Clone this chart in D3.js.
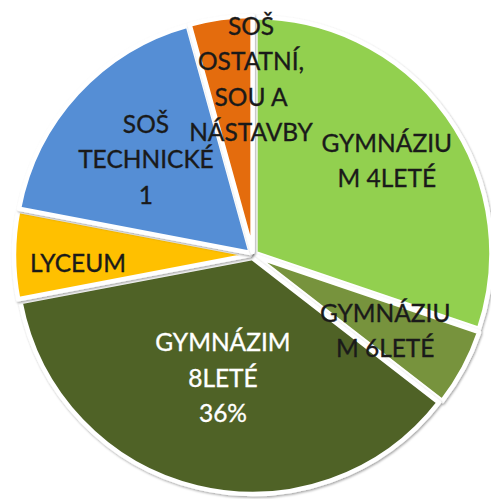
<!DOCTYPE html>
<html>
<head>
<meta charset="utf-8">
<script src="https://cdn.jsdelivr.net/npm/d3@7"></script>
<style>
html,body{margin:0;padding:0;background:#fff;}
svg{display:block;}
</style>
</head>
<body>
<svg id="chart" width="491" height="499"></svg>
<script>
// ---- data ----
const categories = ["GYMNÁZIUM 4LETÉ", "GYMNÁZIUM 6LETÉ", "GYMNÁZIM 8LETÉ", "LYCEUM", "SOŠ TECHNICKÉ 1", "SOŠ OSTATNÍ, SOU A NÁSTAVBY"];
const values = [30.2, 5.3, 36.5, 6.0, 17.7, 4.3];
const labelLines = [
  ["GYMNÁZIU", "M 4LETÉ"],
  ["GYMNÁZIU", "M 6LETÉ"],
  ["GYMNÁZIM", "8LETÉ", "36%"],
  ["LYCEUM"],
  ["SOŠ", "TECHNICKÉ", "1"],
  ["SOŠ", "OSTATNÍ,", "SOU A", "NÁSTAVBY"]
];

// ---- style / layout ----
const colors = ["#92d050", "#77933c", "#4f6228", "#ffc000", "#558ed5", "#e46c0a"];
const textColors = ["#1a1a1a", "#1a1a1a", "#ffffff", "#1a1a1a", "#1a1a1a", "#1a1a1a"];
const labelRadiusFrac = [0.695, 0.644, 0.534, 0.742, 0.61, 0.748];
const labelAngleShift = [0.3, 1.3, 0.3, -2.3, -0.7, 7.1];

const W = 491, H = 499;
const cx = 253, cy = 255, R = 236, explode = 3;
const lineH = 35.5;

const svg = d3.select("#chart");
const defs = svg.append("defs");
const f = defs.append("filter").attr("id", "sh").attr("x", "-10%").attr("y", "-10%").attr("width", "120%").attr("height", "120%");
f.append("feDropShadow").attr("dx", 1).attr("dy", 1.5).attr("stdDeviation", 1.3)
  .attr("flood-color", "#000").attr("flood-opacity", 0.35);

const pie = d3.pie().sort(null).value(d => d)(values);
const arc = d3.arc().innerRadius(0).outerRadius(R);

const g = svg.append("g").attr("transform", `translate(${cx},${cy})`);

g.selectAll("path.slice").data(pie).join("path")
  .attr("class", "slice")
  .attr("d", arc)
  .attr("fill", (d, i) => colors[i])
  .attr("stroke", "#fff")
  .attr("stroke-width", 4.5)
  .attr("stroke-linejoin", "round")
  .attr("filter", "url(#sh)")
  .attr("transform", d => {
    const a = (d.startAngle + d.endAngle) / 2;
    return `translate(${explode * Math.sin(a)},${-explode * Math.cos(a)})`;
  });

const labels = g.selectAll("text.lbl").data(pie).join("text")
  .attr("class", "lbl")
  .attr("font-family", "Lato, 'Noto Sans', sans-serif")
  .attr("font-size", 24.5)
  .attr("fill", (d, i) => textColors[i])
  .attr("stroke", (d, i) => textColors[i])
  .attr("stroke-width", 0.35)
  .attr("text-anchor", "middle")
  .each(function(d, i) {
    const a = (d.startAngle + d.endAngle) / 2 + labelAngleShift[i] * Math.PI / 180;
    const r = R * labelRadiusFrac[i];
    const x = r * Math.sin(a), y = -r * Math.cos(a);
    const lines = labelLines[i];
    const t = d3.select(this);
    lines.forEach((ln, k) => {
      t.append("tspan")
        .attr("x", x)
        .attr("y", y + (k - (lines.length - 1) / 2) * lineH)
        .attr("dominant-baseline", "central")
        .text(ln);
    });
  });
</script>
</body>
</html>
